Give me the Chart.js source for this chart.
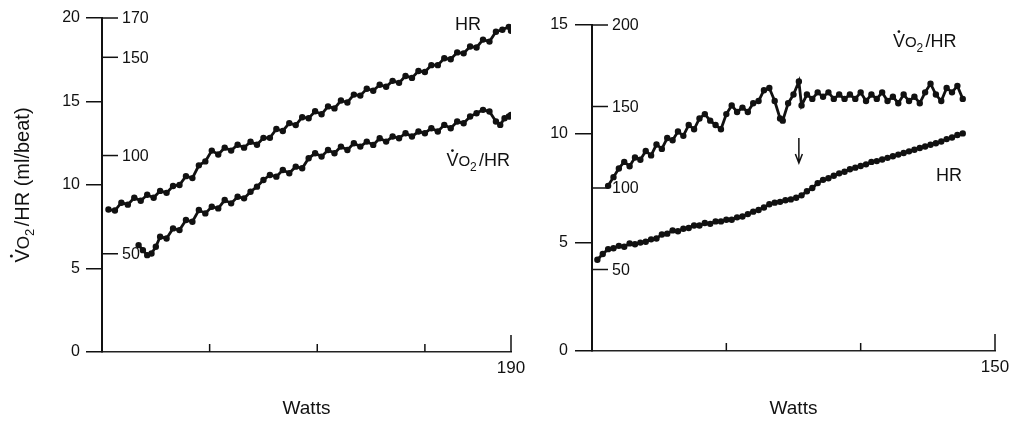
<!DOCTYPE html>
<html>
<head>
<meta charset="utf-8">
<script src="https://cdn.jsdelivr.net/npm/chart.js@4.4.1/dist/chart.umd.min.js"></script>
<style>
  html, body { margin: 0; padding: 0; background: #fff; }
  #wrap { position: relative; width: 1017px; height: 424px; overflow: hidden; }
  canvas { position: absolute; top: 0; }
  #leftChart { left: 0; }
  #rightChart { left: 540px; }
</style>
</head>
<body>
<div id="wrap">
  <canvas id="leftChart" width="540" height="424"></canvas>
  <canvas id="rightChart" width="477" height="424"></canvas>
</div>
<script>
// left panel (0-190 W)
const leftHrWatts = [3,6,9,12,15,18,21,24,27,30,33,36,39,42,45,48,51,54,57,60,63,66,69,72,75,78,81,84,87,90,93,96,99,102,105,108,111,114,117,120,123,126,129,132,135,138,141,144,147,150,153,156,159,162,165,168,171,174,177,180,183,186,189,190];
const leftHr = [72.5,72,76,75,78.5,77,80,78.5,82,81,84.5,85,89.5,88.5,95,97,102.5,100.5,104,102.5,105.5,104,107,105.5,109,109,113.5,112.5,116.5,115.5,119.5,119,122.5,121,125,124,128,127,131,130.5,134,133,136,135,138,137,140.5,139.5,143,142.5,146,146,149.5,149,152.5,152,155.5,155,159,158,163,164,165.5,163.5];
const leftVo2Watts = [17,19,21,23,25,27,30,33,36,39,42,45,48,51,54,57,60,63,66,69,72,75,78,81,84,87,90,93,96,99,102,105,108,111,114,117,120,123,126,129,132,135,138,141,144,147,150,153,156,159,162,165,168,171,174,177,180,183,185,187,189,190];
const leftVo2 = [6.4,6.1,5.8,5.9,6.3,6.9,6.8,7.4,7.3,7.9,7.8,8.5,8.3,8.7,8.6,9.1,8.9,9.3,9.2,9.6,9.9,10.3,10.6,10.5,10.9,10.7,11.1,11.0,11.6,11.9,11.7,12.1,11.9,12.3,12.1,12.5,12.3,12.6,12.4,12.8,12.6,12.9,12.8,13.1,12.9,13.2,13.1,13.4,13.2,13.6,13.4,13.8,13.7,14.1,14.3,14.5,14.4,13.8,13.6,14.0,14.1,14.2];
const leftHrTicks = [50, 100, 150, 170];
const leftXTicks = [0, 50, 100, 150, 190];

// right panel (0-150 W)
const rightHrWatts = [2,4,6,8,10,12,14,16,18,20,22,24,26,28,30,32,34,36,38,40,42,44,46,48,50,52,54,56,58,60,62,64,66,68,70,72,74,76,78,80,82,84,86,88,90,92,94,96,98,100,102,104,106,108,110,112,114,116,118,120,122,124,126,128,130,132,134,136,138];
const rightHr = [56,59.5,62.5,63,64.5,64,66,65.5,66.5,67,68.5,69,71.5,72,74,73.5,75,75.5,77,77,78.5,78,79.5,79.5,80.5,80.5,82,82.5,84,85.5,86.5,88,90,91,91.5,92.5,93,94,95.5,98,100,103,105,106,107.5,109,110,111.5,112.5,113.5,114.5,116,116.5,117.5,118.5,119.5,120.5,121.5,122.5,123.5,124.5,125.5,126.5,127.5,128.5,130,131,132.5,133.5];
const rightVo2Watts = [6,8,10,12,14,16,18,20,22,24,26,28,30,32,34,36,38,40,42,44,46,48,50,52,54,56,58,60,62,64,66,68,70,71,73,75,77,78,80,82,84,86,88,90,92,94,96,98,100,102,104,106,108,110,112,114,116,118,120,122,124,126,128,130,132,134,136,138];
const rightVo2 = [7.6,8.0,8.4,8.7,8.5,8.9,8.8,9.2,9.0,9.5,9.3,9.8,9.7,10.1,9.9,10.4,10.2,10.7,10.9,10.6,10.4,10.2,10.9,11.3,11.0,11.2,11.0,11.4,11.5,12.0,12.1,11.5,10.7,10.6,11.4,11.8,12.4,11.3,11.8,11.6,11.9,11.7,11.9,11.6,11.8,11.6,11.8,11.6,11.9,11.5,11.8,11.6,11.9,11.5,11.7,11.4,11.8,11.5,11.7,11.4,11.9,12.3,11.8,11.5,12.1,11.9,12.2,11.6];
const rightHrTicks = [50, 100, 150, 200];
const rightXTicks = [0, 50, 100, 150];

const FONT = '"Liberation Sans", Arial, Helvetica, sans-serif';
Chart.defaults.font.family = FONT;
Chart.defaults.color = '#111';

function pairs(xs, ys) {
  return xs.map((x, i) => ({ x: x, y: ys[i] }));
}

// draws V-dot O 2 /HR ... starting at x (baseline y); returns width
function drawVo2(ctx, x, base, size, rest, measureOnly) {
  let cx = x;
  ctx.font = size + 'px ' + FONT;
  const wV = ctx.measureText('V').width;
  if (!measureOnly) {
    ctx.fillText('V', cx, base);
    ctx.beginPath();
    ctx.arc(cx + wV / 2, base - size * 0.88, size * 0.075, 0, Math.PI * 2);
    ctx.fill();
  }
  cx += wV;
  ctx.font = Math.round(size * 0.85) + 'px ' + FONT;
  if (!measureOnly) ctx.fillText('O', cx, base);
  cx += ctx.measureText('O').width;
  ctx.font = Math.round(size * 0.65) + 'px ' + FONT;
  if (!measureOnly) ctx.fillText('2', cx, base + size * 0.25);
  cx += ctx.measureText('2').width + size * 0.12;
  ctx.font = size + 'px ' + FONT;
  if (!measureOnly) ctx.fillText(rest, cx, base);
  cx += ctx.measureText(rest).width;
  return cx - x;
}

const panelExtras = {
  id: 'panelExtras',
  afterDraw(chart, args, opts) {
    const { ctx, chartArea } = chart;
    const xs = chart.scales.x, ys = chart.scales.y, hr = chart.scales.hr;
    ctx.save();
    ctx.strokeStyle = '#111';
    ctx.fillStyle = '#111';

    // inward x ticks
    ctx.lineWidth = 1.5;
    opts.xTicks.forEach(v => {
      if (v === 0) return;
      const px = xs.getPixelForValue(v);
      const len = v === xs.max ? 17 : 8;
      ctx.beginPath();
      ctx.moveTo(px, chartArea.bottom);
      ctx.lineTo(px, chartArea.bottom - len);
      ctx.stroke();
    });

    // heart rate scale, drawn on the inner side of the axis
    ctx.font = '16px ' + FONT;
    ctx.textAlign = 'left';
    ctx.textBaseline = 'middle';
    opts.hrTicks.forEach(v => {
      const py = hr.getPixelForValue(v);
      ctx.beginPath();
      ctx.moveTo(chartArea.left, py);
      ctx.lineTo(chartArea.left + 16, py);
      ctx.stroke();
      ctx.fillText(String(v), chartArea.left + 20, py + 1);
    });

    // curve labels
    ctx.textBaseline = 'alphabetic';
    opts.labels.forEach(l => {
      const px = xs.getPixelForValue(l.x);
      const base = ys.getPixelForValue(l.y) + 6.5;
      if (l.vo2) {
        drawVo2(ctx, px, base, 18, '/HR');
      } else {
        ctx.font = '18px ' + FONT;
        ctx.fillText(l.text, px, base);
      }
    });

    // arrow
    if (opts.arrow) {
      const ax = xs.getPixelForValue(opts.arrow.x);
      const a1 = ys.getPixelForValue(opts.arrow.from);
      const a2 = ys.getPixelForValue(opts.arrow.to);
      ctx.lineWidth = 1.5;
      ctx.beginPath();
      ctx.moveTo(ax, a1);
      ctx.lineTo(ax, a2);
      ctx.moveTo(ax - 3.5, a2 - 9);
      ctx.lineTo(ax, a2);
      ctx.lineTo(ax + 3.5, a2 - 9);
      ctx.stroke();
    }

    // y axis title
    if (opts.yTitle) {
      ctx.translate(opts.yTitle.x, (chartArea.top + chartArea.bottom) / 2);
      ctx.rotate(-Math.PI / 2);
      const w = drawVo2(ctx, 0, 0, 20, '/HR (ml/beat)', true);
      drawVo2(ctx, -w / 2, 7, 20, '/HR (ml/beat)');
    }
    ctx.restore();
  }
};

function makePanel(canvas, cfg) {
  return new Chart(canvas, {
    type: 'line',
    data: {
      datasets: cfg.datasets.map(d => ({
        data: d.data,
        yAxisID: d.axis,
        borderColor: '#111',
        backgroundColor: '#111',
        borderWidth: 2.8,
        pointRadius: 1.8,
        pointHoverRadius: 0,
        tension: 0
      }))
    },
    options: {
      responsive: false,
      animation: false,
      events: [],
      layout: { padding: cfg.padding },
      plugins: {
        legend: { display: false },
        tooltip: { enabled: false },
        panelExtras: cfg.extras
      },
      scales: {
        x: {
          type: 'linear',
          min: 0,
          max: cfg.xMax,
          afterBuildTicks(s) { s.ticks = cfg.xTicks.map(v => ({ value: v })); },
          ticks: {
            autoSkip: false,
            maxRotation: 0,
            font: { size: 17 },
            padding: 6,
            callback: v => (v === cfg.xMax ? String(v) : '')
          },
          grid: { display: false, drawTicks: false },
          border: { display: true, color: '#222', width: 1.5 },
          title: { display: true, text: 'Watts', font: { size: 19 }, padding: { top: 0, bottom: 4 } },
          afterFit(s) { s.height = cfg.xHeight; }
        },
        y: {
          type: 'linear',
          position: 'left',
          min: 0,
          max: cfg.yMax,
          ticks: { stepSize: 5, font: { size: 16 }, padding: cfg.yPad },
          grid: { drawOnChartArea: false, drawTicks: true, tickLength: cfg.tickLen, color: '#111', lineWidth: 1.5 },
          border: { display: true, color: '#111', width: 2 },
          afterFit(s) { s.width = cfg.yWidth; }
        },
        hr: {
          type: 'linear',
          display: false,
          min: 0,
          max: cfg.hrMax
        }
      }
    },
    plugins: [panelExtras]
  });
}

makePanel(document.getElementById('leftChart'), {
  xMax: 190, yMax: 20, hrMax: 170,
  xTicks: leftXTicks,
  padding: { left: 0, right: 29, top: 18, bottom: 0 },
  yWidth: 102, xHeight: 72, yPad: 6, tickLen: 16,
  datasets: [
    { data: pairs(leftHrWatts, leftHr), axis: 'hr' },
    { data: pairs(leftVo2Watts, leftVo2), axis: 'y' }
  ],
  extras: {
    xTicks: leftXTicks,
    hrTicks: leftHrTicks,
    labels: [
      { text: 'HR', x: 164, y: 19.7 },
      { vo2: true, x: 160, y: 11.5 }
    ],
    yTitle: { x: 22 }
  }
});

makePanel(document.getElementById('rightChart'), {
  xMax: 150, yMax: 15, hrMax: 200,
  xTicks: rightXTicks,
  padding: { left: 0, right: 22, top: 25, bottom: 0 },
  yWidth: 52, xHeight: 73, yPad: 7, tickLen: 17,
  datasets: [
    { data: pairs(rightHrWatts, rightHr), axis: 'hr' },
    { data: pairs(rightVo2Watts, rightVo2), axis: 'y' }
  ],
  extras: {
    xTicks: rightXTicks,
    hrTicks: rightHrTicks,
    labels: [
      { vo2: true, x: 112, y: 14.27 },
      { text: 'HR', x: 128, y: 8.1 }
    ],
    arrow: { x: 77, from: 9.8, to: 8.65 }
  }
});
</script>
</body>
</html>
